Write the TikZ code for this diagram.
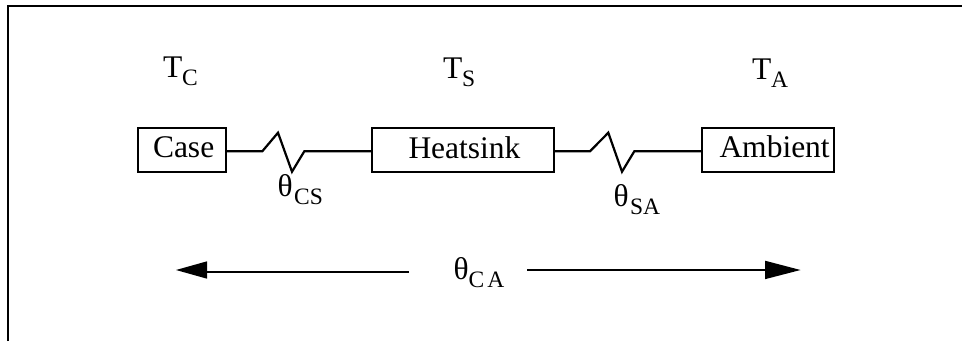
\documentclass[tikz,border=0pt]{standalone}
\usepackage{fontspec}
\setmainfont{Liberation Serif}
\newcommand{\bigtxt}{\fontsize{31.5}{36}\selectfont}
\newcommand{\subtxt}[1]{\raisebox{-8pt}{\fontsize{23.5}{27}\selectfont #1}}
\tikzset{
  lbl/.style={inner sep=0pt, outer sep=0pt, anchor=base west, font=\bigtxt},
  boxnode/.style={draw=black, line width=2.2pt, rectangle, inner sep=0pt, outer sep=0pt, anchor=north west},
  wire/.style={draw=black, line width=2.2pt, line join=miter},
  headfill/.style={fill=black, draw=none}
}
\begin{document}
\begin{tikzpicture}[x=1pt,y=-1pt]
\useasboundingbox (0,0) rectangle (962,341);
% frame
\coordinate (fa) at (8,341);
\coordinate (fb) at (8,6);
\coordinate (fc) at (962,6);
\draw[wire] (fa) -- (fb) -- (fc);
% boxes
\node[boxnode, minimum width=88pt, minimum height=44pt] (case) at (138,128) {};
\node[boxnode, minimum width=182pt, minimum height=44pt] (sink) at (372,128) {};
\node[boxnode, minimum width=132pt, minimum height=44pt] (amb) at (702,128) {};
\node[lbl] (casetxt) at (153,157.3) {Case};
\node[lbl] (sinktxt) at (408.5,158.8) {Heatsink};
\node[lbl] (ambtxt) at (719.5,157.3) {Ambient};
% resistors
\coordinate (a1) at (262.3,151.3);
\coordinate (a2) at (278,132.7);
\coordinate (a3) at (292,171.7);
\coordinate (a4) at (304.3,151.3);
\coordinate (b1) at (590,151.3);
\coordinate (b2) at (608.3,132.7);
\coordinate (b3) at (622,171.7);
\coordinate (b4) at (634.3,151.3);
\draw[wire] (case.east |- a1) -- (a1) -- (a2) -- (a3) -- (a4) -- (sink.west |- a4);
\draw[wire] (sink.east |- b1) -- (b1) -- (b2) -- (b3) -- (b4) -- (amb.west |- b4);
% labels
\node[lbl] (tc) at (163,77) {T\subtxt{C}};
\node[lbl] (ts) at (443,78.5) {T\subtxt{S}};
\node[lbl] (ta) at (752,79) {T\subtxt{A}};
\node[lbl] (tcs) at (277.5,196.3) {θ\hspace{1.5pt}\subtxt{CS}};
\node[lbl] (tsa) at (613.5,206.5) {θ\hspace{1.5pt}\subtxt{SA}};
\node[lbl] (tca) at (453.5,279.7) {θ\subtxt{C\hspace{3pt}A}};
% arrows
\coordinate (lt) at (176,270);
\coordinate (lb) at (207,270);
\coordinate (la) at (207,272);
\coordinate (ls) at (409,272);
\coordinate (rt) at (800.5,270);
\coordinate (rb) at (765,270);
\coordinate (rs) at (527,270);
\draw[wire] (ls) -- (la);
\draw[wire] (rs) -- (rb);
\fill[headfill] (lt) -- (207,261.3) -- (207,278.7) -- cycle;
\fill[headfill] (rt) -- (765,260.7) -- (765,279.2) -- cycle;
\end{tikzpicture}
\end{document}
